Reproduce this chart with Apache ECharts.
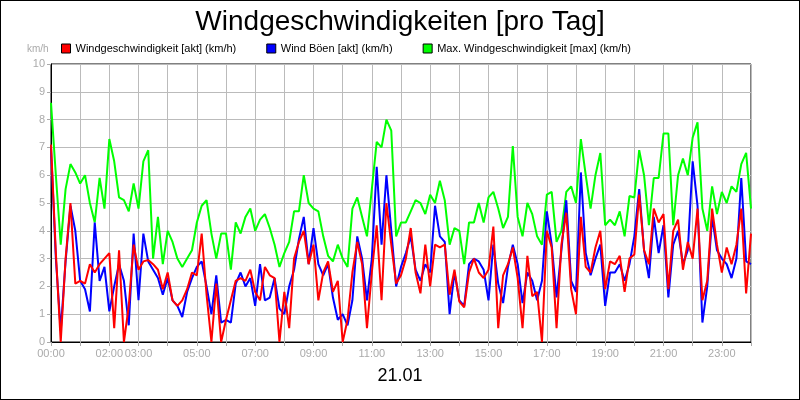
<!DOCTYPE html>
<html>
<head>
<meta charset="utf-8">
<script src="https://cdn.jsdelivr.net/npm/echarts@6/dist/echarts.min.js"></script>
<style>
  html, body { margin: 0; padding: 0; background: #fff; }
  #chart { width: 798px; height: 398px; border: 1px solid #000; }
</style>
</head>
<body>
<div id="chart"></div>
<script>
// 10-minute samples, 00:00 .. 24:00
var stepMinutes = 10;
var hourLabels = ['00:00', '02:00', '03:00', '05:00', '07:00', '09:00', '11:00', '13:00', '15:00', '17:00', '19:00', '21:00', '23:00'];

var windAkt = [
	7.1, 3.2, 0, 3.0, 5.0, 2.1, 2.2, 2.1, 2.8, 2.5, 2.8, 3.0, 3.2, 0.5, 3.3, 0, 1.3, 3.5, 2.6, 2.9,
	2.95, 2.8, 2.6, 1.9, 2.5, 1.5, 1.3, 1.5, 1.9, 2.5, 2.4, 3.9, 1.7, 0, 2.1, 0, 0.8, 1.5, 2.2, 2.3,
	2.2, 2.6, 1.8, 1.5, 2.7, 2.4, 2.3, 0, 1.8, 0.5, 3.0, 3.6, 4.0, 2.8, 3.5, 1.5, 2.5, 2.9, 1.8, 2.2,
	0, 0.8, 2.5, 3.6, 2.8, 0.5, 2.5, 4.2, 1.5, 5.0, 3.5, 2.1, 2.4, 3.0, 4.1, 2.5, 1.75, 3.5, 2.0, 3.5,
	3.4, 3.5, 1.7, 2.6, 1.45, 1.25, 2.5, 3.0, 2.5, 2.3, 2.6, 4.15, 0.5, 2.4, 2.8, 3.4, 2.3, 0.5, 3.1, 1.65,
	1.8, 0, 4.0, 3.4, 0.5, 3.5, 4.65, 1.9, 1.0, 4.5, 2.7, 2.5, 3.4, 4.0, 1.9, 2.9, 2.8, 3.1, 1.8, 3.0,
	3.15, 5.3, 3.3, 2.8, 4.8, 4.3, 4.6, 1.9, 4.0, 4.4, 2.6, 3.6, 3.0, 4.8, 1.5, 2.2, 4.8, 3.5, 2.5, 3.4,
	2.8, 3.5, 4.8, 1.75, 3.9
];

var boeenAkt = [
	7.0, 3.0, 0.4, 2.9, 4.9, 4.0, 2.2, 1.9, 1.1, 4.3, 2.2, 2.7, 1.1, 2.0, 2.8, 2.2, 0.6, 3.9, 1.5, 3.9,
	2.9, 2.6, 2.3, 1.7, 2.3, 1.5, 1.3, 0.9, 1.8, 2.3, 2.7, 2.9, 2.0, 1.0, 2.4, 0.7, 0.8, 0.7, 2.1, 2.5,
	2.0, 2.3, 1.3, 2.8, 1.5, 1.6, 2.3, 1.2, 1.0, 2.0, 2.6, 3.7, 4.5, 2.8, 4.1, 2.8, 2.4, 2.8, 1.6, 0.8,
	1.0, 0.6, 1.5, 3.8, 3.0, 1.5, 3.0, 6.3, 3.5, 6.0, 4.0, 2.0, 2.7, 3.2, 3.8, 2.6, 2.2, 2.8, 2.5, 4.9,
	3.8, 3.6, 1.0, 2.5, 1.5, 1.3, 2.8, 3.0, 2.9, 2.6, 1.5, 3.5, 2.1, 1.4, 2.7, 3.5, 2.8, 1.4, 2.5, 2.2,
	1.5, 2.2, 4.7, 3.5, 1.6, 3.3, 5.1, 2.2, 1.8, 6.1, 3.2, 2.4, 3.0, 3.5, 1.3, 2.5, 2.5, 2.8, 2.2, 2.8,
	3.8, 5.5, 3.3, 2.3, 4.5, 3.2, 4.2, 1.6, 3.5, 4.0, 2.8, 3.3, 6.5, 4.9, 0.7, 2.0, 4.5, 3.3, 3.0, 2.8,
	2.3, 3.0, 5.9, 2.9, 2.8
];

var windMax = [
	8.6, 6.0, 3.5, 5.5, 6.4, 6.1, 5.7, 6.0, 5.0, 4.3, 5.9, 4.8, 7.3, 6.5, 5.2, 5.1, 4.7, 5.7, 4.8, 6.5,
	6.9, 3.0, 4.5, 2.8, 4.0, 3.6, 3.0, 2.7, 3.0, 3.3, 4.3, 4.9, 5.1, 3.9, 3.0, 3.9, 3.9, 2.6, 4.3, 3.9,
	4.5, 4.8, 4.0, 4.4, 4.6, 4.1, 3.5, 2.7, 3.2, 3.6, 4.7, 4.7, 6.0, 5.0, 4.8, 4.7, 3.8, 3.1, 2.9, 3.5,
	3.0, 2.7, 4.8, 5.2, 4.5, 3.8, 5.5, 7.2, 7.0, 8.0, 7.6, 3.8, 4.3, 4.3, 4.7, 5.1, 5.0, 4.6, 5.3, 5.0,
	5.8, 5.1, 3.5, 4.1, 4.0, 2.8, 4.3, 4.3, 5.0, 4.3, 5.2, 5.4, 4.8, 4.1, 4.5, 7.05, 4.5, 3.8, 5.0, 4.6,
	3.8, 3.5, 5.3, 5.4, 3.6, 4.0, 5.4, 5.6, 5.0, 7.3, 6.0, 4.8, 6.0, 6.8, 4.2, 4.4, 4.2, 4.7, 3.8, 5.25,
	5.2, 6.9, 6.0, 4.2, 5.9, 5.9, 7.5, 7.5, 4.2, 6.0, 6.6, 6.0, 7.35, 7.9, 4.8, 4.0, 5.6, 4.6, 5.4, 5.0,
	5.6, 5.4, 6.4, 6.8, 4.8
];

function toPairs(values) {
	return values.map(function(v, i) { return [i * stepMinutes, v]; });
}

function fmtTime(m) {
	var h = Math.floor(m / 60);
	return (h < 10 ? '0' : '') + h + ':00';
}

var chart = echarts.init(document.getElementById('chart'));

var lineStyle = function(color) {
	return { color: color, width: 2 };
};

chart.setOption({
	animation: false,
	title: {
		text: 'Windgeschwindigkeiten [pro Tag]',
		left: 'center', top: 2,
		textStyle: { fontFamily: 'Liberation Sans', fontSize: 28, fontWeight: 'normal', color: '#000' }
	},
	legend: {
		top: 37, left: 55,
		itemWidth: 9, itemHeight: 9, itemGap: 30,
		icon: 'rect',
		textStyle: { fontFamily: 'Liberation Sans', fontSize: 11, color: '#000' },
		data: [
			{ name: 'Windgeschwindigkeit [akt] (km/h)', itemStyle: { color: '#ff0000', borderColor: '#000', borderWidth: 1 } },
			{ name: 'Wind Böen [akt] (km/h)', itemStyle: { color: '#0000ff', borderColor: '#000', borderWidth: 1 } },
			{ name: 'Max. Windgeschwindigkeit [max] (km/h)', itemStyle: { color: '#00ff00', borderColor: '#000', borderWidth: 1 } }
		]
	},
	graphic: [
		{ type: 'text', left: 26, top: 43, style: { text: 'km/h', fill: '#aaa', font: '10px Liberation Sans' } },
		{ type: 'text', left: 'center', top: 366, style: { text: '21.01', fill: '#000', font: '18px Liberation Sans' } }
	],
	grid: { left: 50, right: 48, top: 63, bottom: 57, show: true, borderColor: '#000', borderWidth: 1 },
	xAxis: {
		type: 'value', min: 0, max: 1440, interval: 60,
		axisLine: { lineStyle: { color: '#000' } },
		axisTick: { show: true, length: 4, lineStyle: { color: '#aaa' } },
		splitLine: { show: true, lineStyle: { color: '#bbb' } },
		axisLabel: {
			color: '#aaa', fontFamily: 'Liberation Sans', fontSize: 11, margin: 6,
			formatter: function(v) {
				var t = fmtTime(v);
				return hourLabels.indexOf(t) >= 0 && v < 1440 ? t : '';
			}
		}
	},
	yAxis: {
		type: 'value', min: 0, max: 10, interval: 1,
		axisLine: { show: true, lineStyle: { color: '#000' } },
		axisTick: { show: true, length: 4, lineStyle: { color: '#aaa' } },
		splitLine: { show: true, lineStyle: { color: '#bbb' } },
		axisLabel: { color: '#aaa', fontFamily: 'Liberation Sans', fontSize: 11, margin: 6 }
	},
	series: [
		{ name: 'Max. Windgeschwindigkeit [max] (km/h)', type: 'line', showSymbol: false, data: toPairs(windMax), lineStyle: lineStyle('#00ff00'), itemStyle: { color: '#00ff00' } },
		{ name: 'Wind Böen [akt] (km/h)', type: 'line', showSymbol: false, data: toPairs(boeenAkt), lineStyle: lineStyle('#0000ff'), itemStyle: { color: '#0000ff' } },
		{ name: 'Windgeschwindigkeit [akt] (km/h)', type: 'line', showSymbol: false, data: toPairs(windAkt), lineStyle: lineStyle('#ff0000'), itemStyle: { color: '#ff0000' } }
	]
});
</script>
</body>
</html>
